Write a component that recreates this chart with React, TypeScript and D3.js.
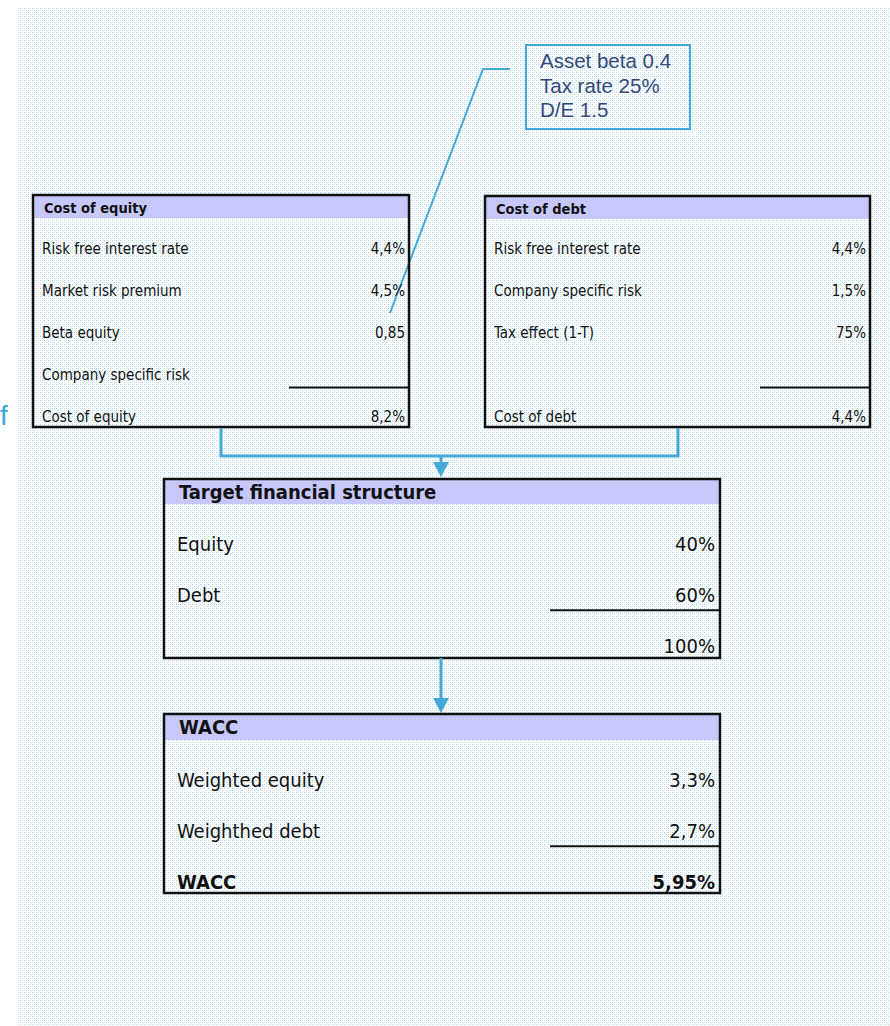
import React from "react";
import * as d3 from "d3";

const equityLabels = ["Risk free interest rate", "Market risk premium", "Beta equity", "Company specific risk", "Cost of equity"];
const equityValues = ["4,4%", "4,5%", "0,85", "", "8,2%"];
const debtLabels = ["Risk free interest rate", "Company specific risk", "Tax effect (1-T)", "", "Cost of debt"];
const debtValues = ["4,4%", "1,5%", "75%", "", "4,4%"];
const structureLabels = ["Equity", "Debt", ""];
const structureValues = ["40%", "60%", "100%"];
const waccLabels = ["Weighted equity", "Weighthed debt", "WACC"];
const waccValues = ["3,3%", "2,7%", "5,95%"];
const calloutLines = ["Asset beta 0.4", "Tax rate 25%", "D/E 1.5"];

const FONT = "Tahoma, 'DejaVu Sans Condensed', 'Liberation Sans', Arial, sans-serif";
const LINE = "#44a8d8";
const HEADER = "#c6c8f9";

type BoxProps = {
  x: number; y: number; w: number; h: number; title: string; headerH: number;
  labels: string[]; values: string[]; rowStart: number; rowEnd: number;
  fontSize: number; titleSize: number; underlineRow: number; underlineFrom: number;
  boldLast?: boolean; labelPad: number; valuePad: number;
};

function Box(p: BoxProps) {
  const rows = d3.scalePoint<number>().domain(d3.range(p.labels.length)).range([p.rowStart, p.rowEnd]);
  const step = rows.step();
  const uy = (rows(p.underlineRow) as number) + step * 0.3;
  return (
    <g>
      <rect x={p.x} y={p.y} width={p.w} height={p.headerH} fill={HEADER} />
      <text x={p.x + p.labelPad + 2} y={p.y + p.headerH * 0.78} fontFamily={FONT} fontWeight="bold" fontSize={p.titleSize} fill="#111">{p.title}</text>
      {p.labels.map((l, i) => {
        const bold = p.boldLast && i === p.labels.length - 1;
        return (
          <g key={i}>
            <text x={p.x + p.labelPad} y={(rows(i) as number)} dy="0.35em" fontFamily={FONT} fontSize={p.fontSize} fontWeight={bold ? "bold" : "normal"} fill="#111">{l}</text>
            <text x={p.x + p.w - p.valuePad} y={(rows(i) as number)} dy="0.35em" textAnchor="end" fontFamily={FONT} fontSize={p.fontSize} fontWeight={bold ? "bold" : "normal"} fill="#111">{p.values[i]}</text>
          </g>
        );
      })}
      <line x1={p.underlineFrom} x2={p.x + p.w} y1={uy} y2={uy} stroke="#111" strokeWidth={2} />
      <rect x={p.x} y={p.y} width={p.w} height={p.h} fill="none" stroke="#111" strokeWidth={2.5} />
    </g>
  );
}

export default function App() {
  const cy = d3.scalePoint<number>().domain(d3.range(calloutLines.length)).range([61, 110]);
  const arrow = (x: number, y: number) => `M${x - 8},${y - 15}L${x + 8},${y - 15}L${x},${y}Z`;
  return (
    <svg width={890} height={1026} style={{ position: "absolute", left: 0, top: 0 }}>
      <defs>
        <pattern id="dots" width={4} height={4} patternUnits="userSpaceOnUse">
          <rect width={4} height={4} fill="#ffffff" />
          <rect x={0} y={0} width={1} height={1} fill="#a4d8f0" />
          <rect x={2} y={0} width={1} height={1} fill="#dcf0f9" />
          <rect x={0} y={2} width={1} height={1} fill="#dcf0f9" />
          <rect x={2} y={2} width={1} height={1} fill="#c0e3f4" />
        </pattern>
      </defs>
      <rect x={0} y={0} width={890} height={1026} fill="#fff" />
      <rect x={18} y={7} width={872} height={1019} fill="url(#dots)" />
      <text x={0} y={425} fontFamily="'Liberation Sans', Arial, sans-serif" fontSize={28} fill="#3aa8dc">f</text>

      {/* callout */}
      <rect x={526} y={45} width={164} height={84} fill="none" stroke={LINE} strokeWidth={2} />
      {calloutLines.map((t, i) => (
        <text key={i} x={540} y={cy(i) as number} dy="0.35em" fontFamily="'Liberation Sans', Arial, sans-serif" fontSize={20.5} fill="#34497a">{t}</text>
      ))}
      <polyline points="510,69 483,69 390,313" fill="none" stroke={LINE} strokeWidth={2} />

      <Box x={33} y={195} w={376} h={232} title="Cost of equity" headerH={23}
        labels={equityLabels} values={equityValues} rowStart={249} rowEnd={417}
        fontSize={15} titleSize={14.5} underlineRow={3} underlineFrom={289} labelPad={9} valuePad={4} />
      <Box x={485} y={196} w={385} h={231} title="Cost of debt" headerH={23}
        labels={debtLabels} values={debtValues} rowStart={249} rowEnd={417}
        fontSize={15} titleSize={14.5} underlineRow={3} underlineFrom={760} labelPad={9} valuePad={4} />

      {/* connectors */}
      <polyline points="221,428 221,456 678,456 678,428" fill="none" stroke={LINE} strokeWidth={3} />
      <line x1={441} x2={441} y1={456} y2={464} stroke={LINE} strokeWidth={3} />
      <path d={arrow(441, 477)} fill={LINE} />

      <Box x={164} y={479} w={556} h={179} title="Target financial structure" headerH={25}
        labels={structureLabels} values={structureValues} rowStart={544} rowEnd={646}
        fontSize={20} titleSize={20} underlineRow={1} underlineFrom={550} labelPad={13} valuePad={5} />

      <line x1={441} x2={441} y1={658} y2={700} stroke={LINE} strokeWidth={3} />
      <path d={arrow(441, 713)} fill={LINE} />

      <Box x={164} y={714} w={556} h={179} title="WACC" headerH={26}
        labels={waccLabels} values={waccValues} rowStart={780} rowEnd={882}
        fontSize={20} titleSize={20} underlineRow={1} underlineFrom={550} labelPad={13} valuePad={5} boldLast />
    </svg>
  );
}
